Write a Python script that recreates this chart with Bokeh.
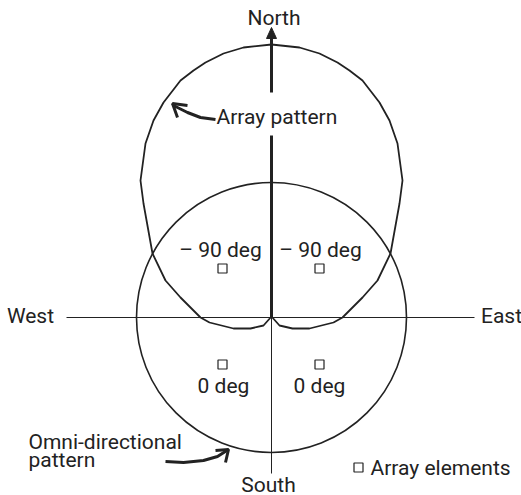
from bokeh.plotting import figure
from bokeh.models import Range1d
from bokeh.core.properties import value
from bokeh.embed import file_html
from bokeh.resources import INLINE

FONT = "Roboto"
FS = "21px"
TEXT_DY = 8  # rendering offset correction for text baselines

# Omni-directional pattern radius
omni_r = 135

# Array pattern (left half, from north to the cusp)
pat_x_half = [0, -28, -48, -66, -78, -91, -108, -118, -126, -131, -128, -119, -106, -91, -71, -62, -38, -21, -8, 0]
pat_y_half = [273, 270, 264, 255, 247, 237, 215, 197, 174, 137, 114, 64, 37, 20, 0, -5, -11, -11, -8, 1]

# Array elements
elem_x = [-49, 48, -49, 48]
elem_y = [49, 49, -47, -47]
legend_sq = ([87], [-150])

# Compass axes
h_axis_x = [-205, 203]
h_axis_y = [0, 0]
south_x = [0, 0]
south_y = [0, -156]
north_x1 = [0, 0]
north_y1 = [0, 182]
north_x2 = [0, 0]
north_y2 = [225, 280]
head_x = [-5, 0, 5]
head_y = [279, 290, 279]

# Annotation arrows
arr1_x = [-56, -71, -84, -96, -99]
arr1_y = [198, 200, 205, 211, 214]
arr1_hx = [-84, -99, -94]
arr1_hy = [212, 214, 200]
arr2_x = [-106, -88, -68, -54, -43]
arr2_y = [-144, -145, -143, -139, -132]
arr2_hx = [-56, -43, -46]
arr2_hy = [-133, -132, -145]

# Labels
labels = [
    ("North", 2.5, 292, "center"),
    ("South", -3, -175, "center"),
    ("West", -241, -6, "center"),
    ("East", 230, -6, "center"),
    ("Array pattern", -55, 193, "left"),
    ("\u2013 90 deg", -51, 60, "center"),
    ("\u2013 90 deg", 49, 60, "center"),
    ("0 deg", -48, -76, "center"),
    ("0 deg", 48, -76, "center"),
    ("Omni-directional", -243, -132, "left"),
    ("pattern", -243, -150, "left"),
    ("Array elements", 99, -158, "left"),
]

p = figure(width=521, height=495, output_backend="svg", toolbar_location=None,
           x_range=Range1d(-271, 250), y_range=Range1d(-178, 317),
           min_border=0, outline_line_color=None)
p.axis.visible = False
p.grid.visible = False

p.circle(x=[0], y=[0], radius=omni_r, fill_color=None, line_color="#222222", line_width=1.6)

pat_x = pat_x_half + [-v for v in pat_x_half[::-1]][1:]
pat_y = pat_y_half + pat_y_half[::-1][1:]
p.line(pat_x, pat_y, line_color="#222222", line_width=1.8, line_join="round")

p.line(h_axis_x, h_axis_y, line_color="#222222", line_width=1)
p.line(south_x, south_y, line_color="#222222", line_width=1)
p.line(north_x1, north_y1, line_color="#222222", line_width=3)
p.line(north_x2, north_y2, line_color="#222222", line_width=3)
p.patch(head_x, head_y, fill_color="#222222", line_color="#222222", line_width=1)

p.line(arr1_x, arr1_y, line_color="#222222", line_width=3, line_join="round")
p.line(arr1_hx, arr1_hy, line_color="#222222", line_width=3)
p.line(arr2_x, arr2_y, line_color="#222222", line_width=3, line_join="round")
p.line(arr2_hx, arr2_hy, line_color="#222222", line_width=3)

p.scatter(elem_x, elem_y, marker="square", size=9, fill_color="white", line_color="#222222", line_width=1.2)
p.scatter(legend_sq[0], legend_sq[1], marker="square", size=9, fill_color="white", line_color="#222222", line_width=1.2)

for txt, x, y, al in labels:
    p.text(x=[x], y=[y + TEXT_DY], text=[txt], text_align=al, text_baseline="alphabetic",
           text_font=value(FONT), text_font_size=FS, text_color="#222222")

open("out.html", "w").write(file_html(p, INLINE))
